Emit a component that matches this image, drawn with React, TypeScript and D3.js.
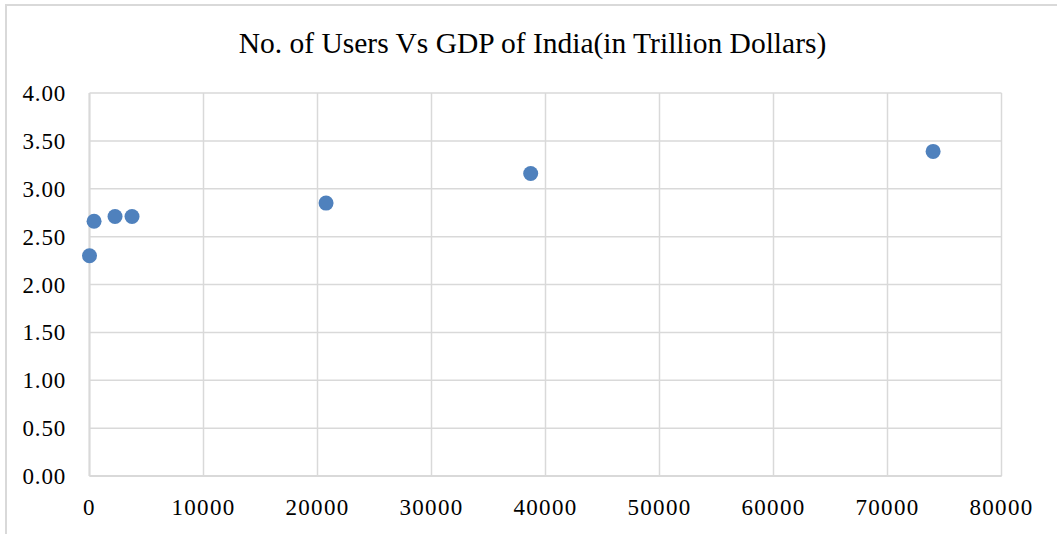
import React from "react";
import * as d3 from "d3";

// Number of users (x) against India's GDP in trillion dollars (y)
const users: number[] = [0, 400, 2240, 3730, 20750, 38700, 74000];
const gdp: number[] = [2.3, 2.66, 2.71, 2.71, 2.85, 3.16, 3.39];
const xTicks: number[] = [0, 10000, 20000, 30000, 40000, 50000, 60000, 70000, 80000];
const yTicks: number[] = [0, 0.5, 1, 1.5, 2, 2.5, 3, 3.5, 4];
const title = "No. of Users Vs GDP of India(in Trillion Dollars)";

const W = 1057;
const H = 534;
const plot = { left: 89.5, right: 1001.5, top: 93, bottom: 476 };
const FONT = "'Liberation Serif', serif";
const GRID = "#d9d9d9";
const MARK = "#4f81bd";

export default function App() {
  const x = d3.scaleLinear().domain([0, 80000]).range([plot.left, plot.right]);
  const y = d3.scaleLinear().domain([0, 4]).range([plot.bottom, plot.top]);
  const points = users.map((u, i) => ({ u, g: gdp[i] }));

  return (
    <svg
      width={W}
      height={H}
      style={{ position: "absolute", left: 0, top: 0, background: "#fff" }}
    >
      {/* chart frame */}
      <rect x={6} y={5} width={W} height={H} fill="#fff" stroke={GRID} strokeWidth={2} />

      <text
        x={532.5}
        y={53}
        textAnchor="middle"
        fontFamily={FONT}
        fontSize={29.5}
        fill="#000"
      >
        {title}
      </text>

      {/* gridlines */}
      {yTicks.map((t) => (
        <line
          key={"gy" + t}
          x1={plot.left}
          x2={plot.right}
          y1={y(t)}
          y2={y(t)}
          stroke={GRID}
          strokeWidth={1.5}
        />
      ))}
      {xTicks.map((t) => (
        <line
          key={"gx" + t}
          x1={x(t)}
          x2={x(t)}
          y1={plot.top}
          y2={plot.bottom}
          stroke={GRID}
          strokeWidth={1.5}
        />
      ))}
      <line x1={plot.left} x2={plot.right} y1={plot.bottom} y2={plot.bottom} stroke={GRID} strokeWidth={2} />
      <line x1={plot.left} x2={plot.left} y1={plot.top} y2={plot.bottom} stroke={GRID} strokeWidth={2} />

      {/* axis labels */}
      {yTicks.map((t) => (
        <text
          key={"ly" + t}
          x={66}
          y={y(t)}
          dy="0.35em"
          textAnchor="end"
          fontFamily={FONT}
          fontSize={23}
          letterSpacing={0.8}
          fill="#000"
        >
          {d3.format(".2f")(t)}
        </text>
      ))}
      {xTicks.map((t) => (
        <text
          key={"lx" + t}
          x={x(t)}
          y={515}
          textAnchor="middle"
          fontFamily={FONT}
          fontSize={23}
          letterSpacing={1.3}
          fill="#000"
        >
          {String(t)}
        </text>
      ))}

      {/* data markers */}
      {points.map((p, i) => (
        <circle key={"p" + i} cx={x(p.u)} cy={y(p.g)} r={7.5} fill={MARK} />
      ))}
    </svg>
  );
}
